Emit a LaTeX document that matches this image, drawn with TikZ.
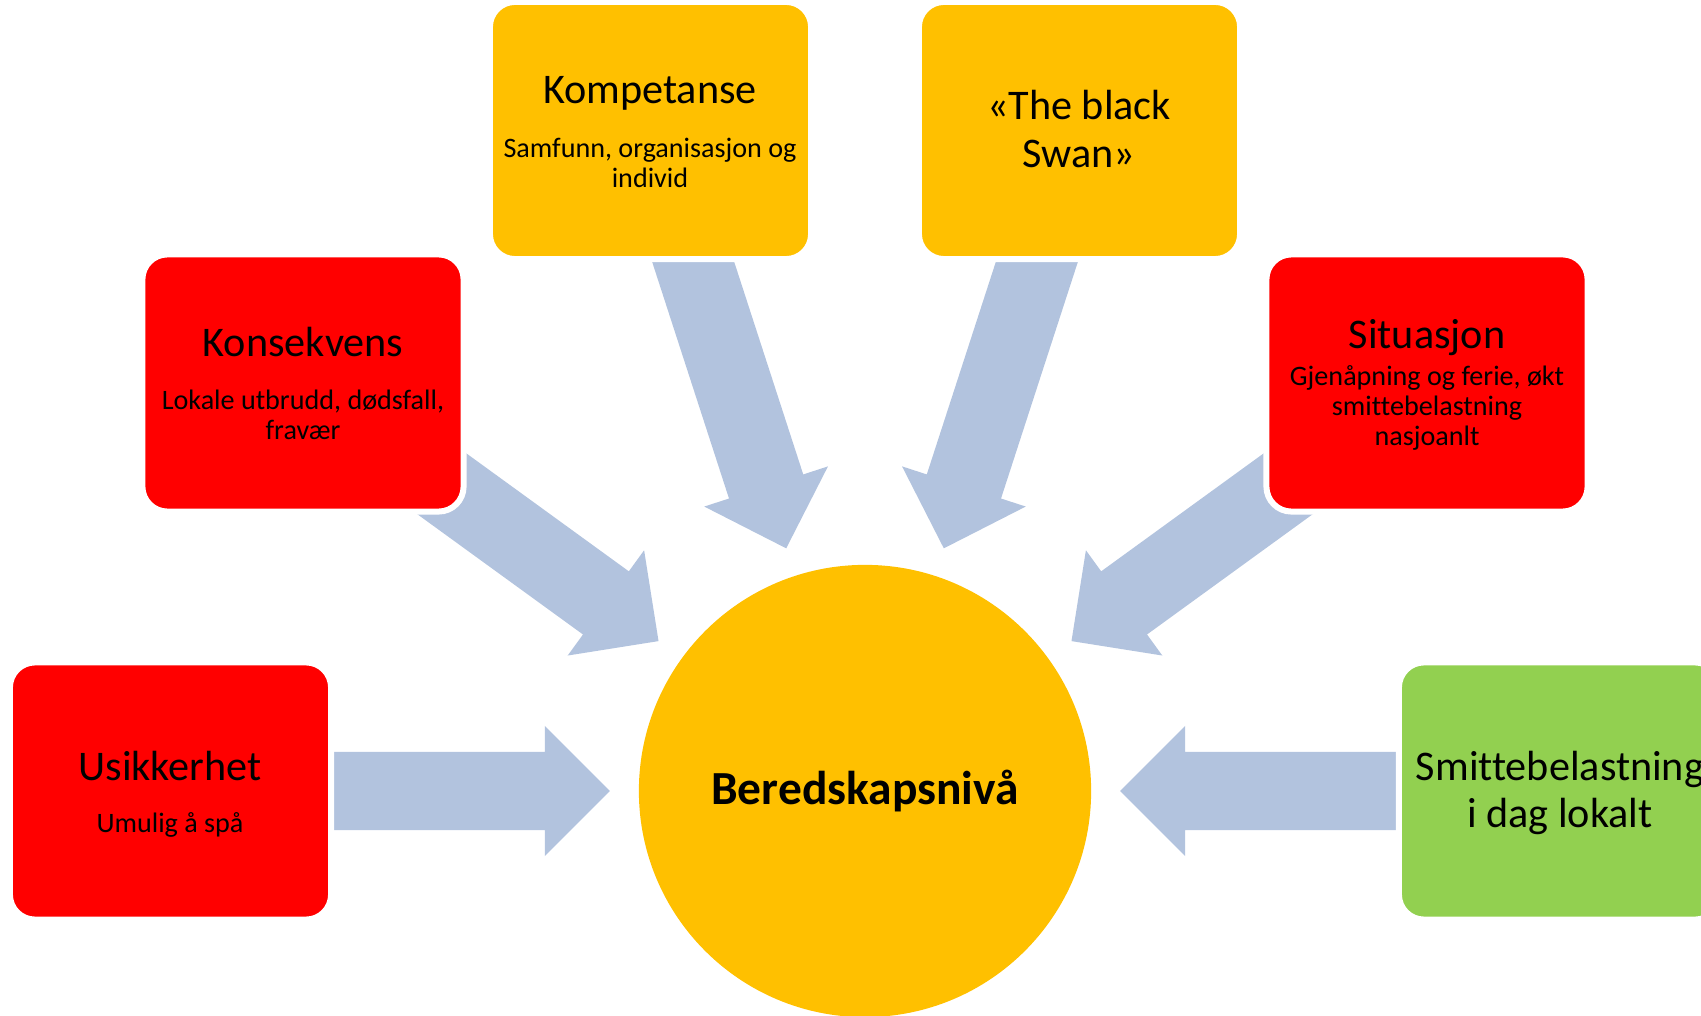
\documentclass[tikz,border=0pt]{standalone}
\usepackage{fontspec}
\setmainfont{Carlito}[Ligatures=NoCommon]
\usetikzlibrary{calc}
\usetikzlibrary{backgrounds}
\definecolor{mred}{RGB}{255, 0, 0}
\definecolor{mgold}{RGB}{255, 192, 0}
\definecolor{mgreen}{RGB}{146, 208, 80}
\definecolor{mblue}{RGB}{178, 195, 222}
\tikzset{box/.style = {draw=white, line width=0.06cm, rounded corners=0.25cm,
                       minimum width=3.21cm, minimum height=2.57cm}}
\tikzset{ttl/.style = {font=\fontsize{12}{13.5}\selectfont, align=center, inner sep=0}}
\tikzset{sub/.style = {font=\fontsize{8}{8.6}\selectfont, align=center, inner sep=0}}
\newcommand{\bigarrow}[2]{%
  \coordinate (#1-tip) at ($(#2.center)!2.55cm!(#1.center)$);
  \coordinate (#1-head) at ($(#2.center)!3.2cm!(#1.center)$);
  \fill [mblue] ($(#1.center)!0.39cm!90:(#1-tip)$)
    -- ($(#1-head)!0.39cm!90:(#1-tip)$)
    -- ($(#1-head)!0.65cm!90:(#1-tip)$)
    -- (#1-tip)
    -- ($(#1-head)!0.65cm!-90:(#1-tip)$)
    -- ($(#1-head)!0.39cm!-90:(#1-tip)$)
    -- ($(#1.center)!0.39cm!-90:(#1-tip)$)
    -- cycle;}

\begin{document}
\begin{tikzpicture}[x=0.01cm, y=0.01cm]
      \useasboundingbox (0, 0) rectangle (1701, 1015);
      \clip (0, 0) rectangle (1701, 1015);

      \node [circle, fill=mgold, minimum size=4.52cm, inner sep=0,
             font=\fontsize{13.5}{15}\selectfont\bfseries] (bered) at (865, 224) {Beredskapsnivå};

      \node [box, fill=mred] (usik) at (170.5, 224) {};
      \node [box, fill=mred] (kons) at (303, 632) {};
      \node [box, fill=mgold] (komp) at (650.5, 884.5) {};
      \node [box, fill=mgold] (swan) at (1079.5, 884.5) {};
      \node [box, fill=mred] (situ) at (1427, 632) {};
      \node [box, fill=mgreen] (smit) at (1559.5, 224) {};

      \node [ttl] (usik-ttl) at (170, 249) {Usikkerhet};
      \node [sub] (usik-sub) at (170, 190) {Umulig å spå};
      \node [ttl] (kons-ttl) at (303, 673) {Konsekvens};
      \node [sub] (kons-sub) at (303, 600) {Lokale utbrudd, dødsfall,\\ fravær};
      \node [ttl] (komp-ttl) at (650, 922) {Kompetanse};
      \node [sub] (komp-sub) at (650, 852) {Samfunn, organisasjon og\\ individ};
      \node [ttl] (swan-ttl) at (1079, 886) {«The black\\ Swan»};
      \node [ttl] (situ-ttl) at (1427, 677) {Situasjon};
      \node [sub] (situ-sub) at (1427, 607) {Gjenåpning og ferie, økt\\ smittebelastning\\ nasjoanlt};
      \node [ttl] (smit-ttl) at (1560, 222) {Smittebelastning\\ i dag lokalt};

      \begin{scope}[on background layer]
        \foreach \b in {usik, kons, komp, swan, situ, smit}
          \bigarrow{\b}{bered};
      \end{scope}
    \end{tikzpicture}
\end{document}
